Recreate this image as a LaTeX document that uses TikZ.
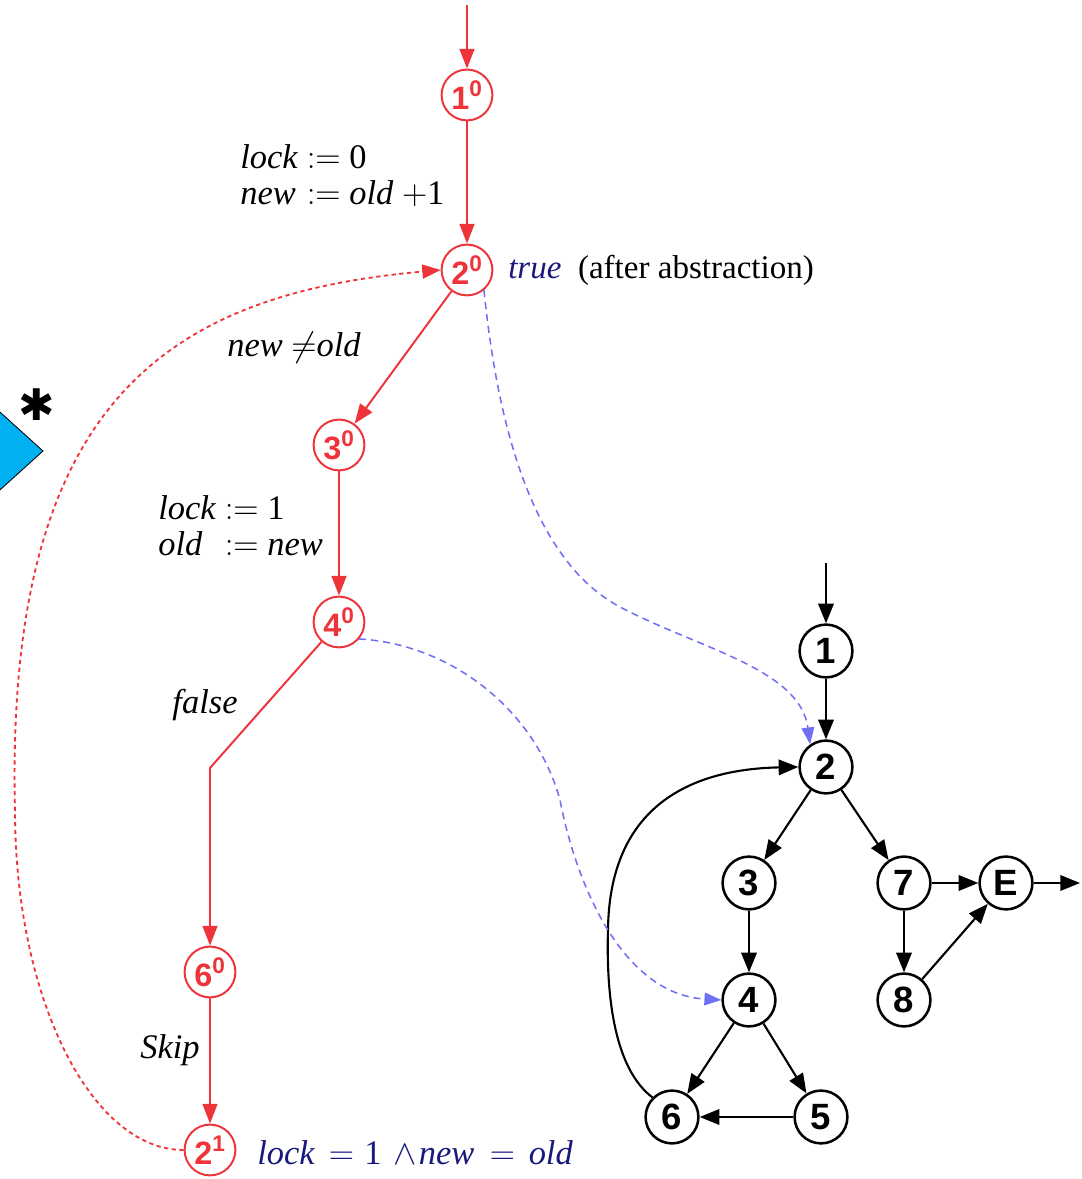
\documentclass[tikz,border=0pt]{standalone}
\usepackage{fontspec}
\setmainfont{Liberation Serif}
\newfontfamily\numfont{Liberation Sans}
\newfontfamily\symfont{DejaVu Sans}
\usepackage{tikz}
\usetikzlibrary{arrows.meta, positioning}

\definecolor{absred}{RGB}{238,52,58}
\definecolor{linkblue}{RGB}{112,112,245}
\definecolor{predblue}{RGB}{25,25,125}
\definecolor{markcyan}{RGB}{0,176,240}

\begin{document}
\begin{tikzpicture}[
		x=0.025cm,
		y=0.025cm,
		font=\fontsize{24.5}{26}\selectfont,
		art/.style={circle, draw=absred, line width=1.4pt, minimum size=1.27cm, inner sep=0pt, text=absred, font=\numfont\bfseries\fontsize{23}{23}\selectfont},
		cfg/.style={circle, draw, line width=1.8pt, minimum size=1.32cm, inner sep=0pt, font=\numfont\bfseries\fontsize{26}{26}\selectfont},
		redge/.style={-{Triangle[length=14pt,width=10.5pt]}, absred, line width=1.4pt},
		bedge/.style={-{Triangle[length=14pt,width=11pt]}, line width=1.5pt},
		cover/.style={-{Triangle[length=12pt,width=9pt]}, linkblue, line width=1.1pt, dash pattern=on 5pt off 3.5pt},
		back/.style={-{Triangle[length=13pt,width=10pt]}, absred, line width=1.3pt, dash pattern=on 3pt off 2.5pt},
		lbl/.style={align=left, inner sep=0pt}
		]
		\useasboundingbox (0,0) rectangle (1081,1179);
		
		% Marker
		\fill[markcyan, draw=black, line width=0.6pt] (-20,785) -- (43,728) -- (-20,671) -- cycle;
		\node[font=\symfont\fontsize{31}{31}\selectfont, inner sep=0pt] (star) at (37,774) {✱};
		
		% Abstract reachability tree
		\coordinate (rstart) at (467,1174);
		\node[art] (r1) at (467,1084) {1\textsuperscript{0}};
		\node[art] (r2) at (467,909) {2\textsuperscript{0}};
		\node[art] (r3) at (339,734) {3\textsuperscript{0}};
		\node[art] (r4) at (339,557) {4\textsuperscript{0}};
		\coordinate (bend) at (210,411);
		\node[art] (r6) at (210,207) {6\textsuperscript{0}};
		\node[art] (r21) at (210,29) {2\textsuperscript{1}};
		
		\draw[redge] (rstart) -- (r1);
		\draw[redge] (r1) -- (r2);
		\draw[redge] (r2) -- (r3);
		\draw[redge] (r3) -- (r4);
		\draw[redge] (r4) -- (bend) -- (r6);
		\draw[redge] (r6) -- (r21);
		
		% Edge labels
		\node[lbl, anchor=west] (ops1) at (240,1000) {\begin{tabular}{@{}l@{\ }l@{}}\textit{lock} & $:=$ 0\\ \textit{new} & $:=$ \textit{old} $+$1\end{tabular}};
		\node[lbl] (guard) at (294,831) {\textit{new} $\neq$\textit{old}};
		\node[lbl, anchor=west] (ops2) at (158,649) {\begin{tabular}{@{}l@{\ }l@{}}\textit{lock} & $:=$ 1\\ \textit{old} & $:=$ \textit{new}\end{tabular}};
		\node[lbl] (no) at (205,474) {\textit{false}};
		\node[lbl] (skip) at (170,129) {\textit{Skip}};
		
		% Region predicates
		\node[lbl, anchor=west, font=\fontsize{23.5}{26}\selectfont] (top) at (508,909) {\textcolor{predblue}{\textit{true}}\hspace{0.5em}(after abstraction)};
		\node[lbl, anchor=west, text=predblue] (inv) at (257,26) {\textit{lock}\hspace{0.4em}$=$\hspace{0.3em}1\hspace{0.35em}$\wedge$\hspace{0.05em}\textit{new}\hspace{0.45em}$=$\hspace{0.4em}\textit{old}};
		
		% Covering edge back to the root
		\draw[back] (r21.west) .. controls (91,29) and (15,181) .. (15,369) .. controls (5,780) and (170,885) .. (r2.west);
		
		% Control flow graph
		\coordinate (bstart) at (826,616);
		\node[cfg] (b1) at (826,528) {1};
		\node[cfg] (b2) at (826,412) {2};
		\node[cfg] (b3) at (749,296) {3};
		\node[cfg] (b7) at (904,296) {7};
		\node[cfg] (bE) at (1006,296) {E};
		\node[cfg] (b4) at (749,179) {4};
		\node[cfg] (b8) at (904,179) {8};
		\node[cfg] (b6) at (672,62) {6};
		\node[cfg] (b5) at (821,62) {5};
		\coordinate (bexit) at (1080,296);
		
		\draw[bedge] (bstart) -- (b1);
		\draw[bedge] (b1) -- (b2);
		\draw[bedge] (b2) -- (b3);
		\draw[bedge] (b2) -- (b7);
		\draw[bedge] (b3) -- (b4);
		\draw[bedge] (b7) -- (bE);
		\draw[bedge] (b7) -- (b8);
		\draw[bedge] (b8) -- (bE);
		\draw[bedge] (bE) -- (bexit);
		\draw[bedge] (b4) -- (b6);
		\draw[bedge] (b4) -- (b5);
		\draw[bedge] (b5) -- (b6);
		\draw[bedge] (b6.north west) .. controls (615,110) and (606,180) .. (608,250) .. controls (610,380) and (700,410) .. (b2.west);
		
		% Tree nodes mapped to locations
		\draw[cover] (r2.-50) .. controls (497,760) and (530,620) .. (620,572) .. controls (700,530) and (800,510) .. (b2.125);
		\draw[cover] (r4.-40) .. controls (450,535) and (535,470) .. (560,379) .. controls (575,300) and (620,185) .. (b4.west);
	\end{tikzpicture}
\end{document}
